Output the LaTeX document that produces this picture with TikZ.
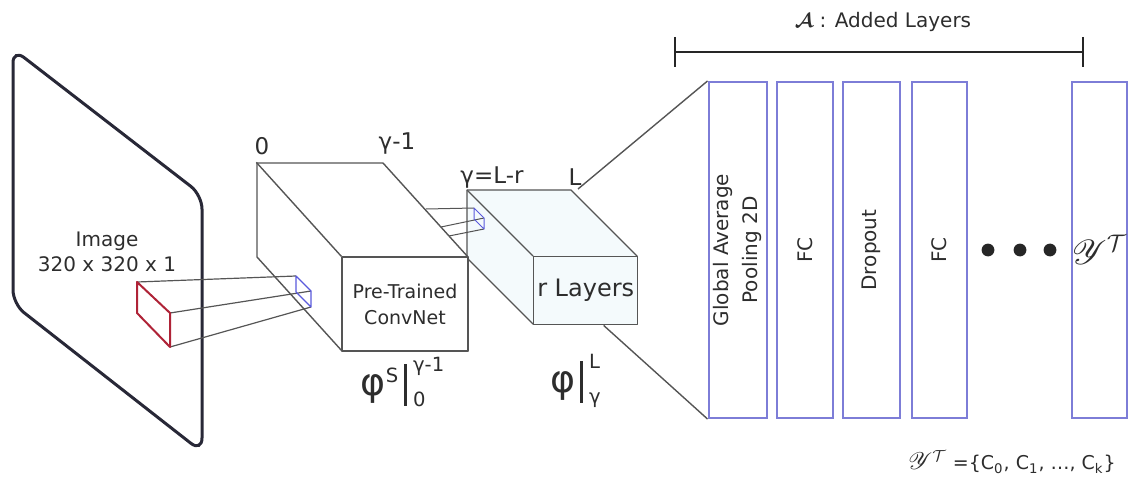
\documentclass[tikz,border=0pt]{standalone}
\usepackage{fontspec}
\setmainfont{DejaVu Sans}
\usepackage{amsmath}
\usepackage{mathrsfs}
\usetikzlibrary{positioning,calc}
\definecolor{cubegray}{RGB}{85,85,85}
\definecolor{txtgray}{RGB}{45,45,45}
\definecolor{panelgray}{RGB}{40,40,55}
\definecolor{layerblue}{RGB}{125,125,215}
\definecolor{patchred}{RGB}{175,35,55}
\definecolor{patchblue}{RGB}{90,90,220}
\definecolor{rfill}{RGB}{244,250,252}
\newcommand{\evalbar}{\mathclose{\mkern3mu\vrule width 1.3pt height 16pt depth 5pt\mkern4mu}}

\begin{document}
\begin{tikzpicture}[x=0.5pt,y=-0.5pt]
\tikzset{cube/.style={draw=cubegray, line width=0.7pt, line join=round},
  face/.style={cube, inner sep=0pt, align=center, text=txtgray},
  added/.style={draw=layerblue, line width=1pt, minimum height=168pt, inner sep=0pt, text=txtgray, font=\fontsize{10}{14.5}\selectfont},
  lbl/.style={text=txtgray, inner sep=1pt, font=\fontsize{11.5}{12}\selectfont},
  patch/.style={line width=0.6pt, line join=round},
  bracket/.style={line width=1.4pt, draw=black!85}}
\useasboundingbox (0,0) rectangle (1128,476);
\draw[panelgray, line width=1.5pt, rounded corners=7pt] (13,49) -- (202,195) -- (202,452) -- (13,304) -- cycle;
\node[text=txtgray, align=center, font=\fontsize{10}{12.5}\selectfont] (img) at (107,252) {Image\\320 x 320 x 1};
\coordinate (rnw) at (533,256);
\filldraw[cube, fill=rfill] (rnw) ++(-66,-66) -- ++(104,0) -- ++(66,66) -- ++(0,68) -- ++(-104,0) -- ++(-66,-66) -- cycle;
\node[face, fill=rfill, anchor=north west, minimum width=52pt, minimum height=34pt, font=\fontsize{12}{12}\selectfont] (rlay) at (rnw) {r Layers};
\draw[cube] (rlay.north west) -- ++(-66,-66);
\filldraw[cube, fill=white] (257,163) -- (383,163) -- (468,257) -- (468,351) -- (342,351) -- (257,257) -- cycle;
\node[face, minimum width=63pt, minimum height=47pt, font=\fontsize{9.5}{13}\selectfont] (ptnet) at (405,304) {Pre-Trained\\ConvNet};
\draw[cube] (ptnet.north west) -- ++(-85,-94);
\coordinate (r1) at (137,282);
\coordinate (r2) at (170,313);
\coordinate (r3) at (170,347);
\coordinate (r4) at (137,313);
\coordinate (b1) at (296,276);
\coordinate (b2) at (311,291);
\coordinate (b3) at (311,307);
\coordinate (b4) at (296,292);
\draw[patch, cubegray] (r1) -- (b1) (r2) -- (b2) (r3) -- (b3);
\draw[patch, patchred, line width=1pt] (r1) -- (r2) -- (r3) -- (r4) -- cycle;
\draw[patch, patchblue] (b1) -- (b2) -- (b3) -- (b4) -- cycle;
\coordinate (s1) at (474,208);
\coordinate (s2) at (484,218);
\coordinate (s3) at (484,229);
\coordinate (s4) at (474,219);
\draw[patch, cubegray, line width=0.5pt] (426,209) -- (s1) (441,227) -- (s2) (449,236) -- (s3);
\draw[patch, patchblue, line width=0.5pt] (s1) -- (s2) -- (s3) -- (s4) -- cycle;
\node[lbl] (l0) at (262,146) {0};
\node[lbl] (lg) at (397,144) {γ-1};
\node[lbl] (lgr) at (492,178) {γ=L-r};
\node[lbl] (lL) at (575,177) {L};
\node[text=txtgray, inner sep=0pt] (phis) at (403,382) {\fontsize{14}{15}\selectfont $\text{\fontsize{19}{19}\selectfont φ}^{\text{S}}\evalbar_{\text{0}}^{\text{γ-1}}$};
\node[text=txtgray, inner sep=0pt] (phir) at (576,381) {\fontsize{14}{15}\selectfont $\text{\fontsize{19}{19}\selectfont φ}\evalbar_{\text{γ}}^{\text{L}}$};
\node[added, minimum width=27.5pt] (gap) at (737.5,250) {\rotatebox{90}{\begin{tabular}{@{}c@{}}Global Average\\Pooling 2D\end{tabular}}};
\node[added, minimum width=28pt] (fc1) at (805,250) {\rotatebox{90}{FC}};
\node[added, minimum width=28.5pt] (drop) at (871.5,250) {\rotatebox{90}{Dropout}};
\node[added, minimum width=27.5pt] (fc2) at (939.5,250) {\rotatebox{90}{FC}};
\node[added, minimum width=26.5pt] (out) at (1099.5,250) {\fontsize{17}{17}\selectfont $\mathscr{Y}^{\mathcal{T}}$};
\foreach \x in {988,1020,1050}
  \fill[black!85] (\x,250) circle (3.2pt);
\coordinate (c2top) at (578,189);
\coordinate (c2bot) at ($(rlay.south west)!0.67!(rlay.south east)$);
\draw[cube] (c2top) -- (gap.north west);
\draw[cube] (c2bot) -- (gap.south west);
\coordinate (al) at (675,52);
\coordinate (ar) at (1083,52);
\draw[bracket] (al) -- (ar);
\draw[bracket] (al) ++(0,-15) -- ++(0,30);
\draw[bracket] (ar) ++(0,-15) -- ++(0,30);
\node[text=txtgray, font=\fontsize{10}{12}\selectfont] (addt) at (883,22) {$\boldsymbol{\mathcal{A}}$ : Added Layers};
\node[text=txtgray, font=\fontsize{9.5}{10}\selectfont] (yset) at (1012,462) {{\fontsize{12}{12}\selectfont$\mathscr{Y}^{\mathcal{T}}$} =\{C$_{\text{0}}$, C$_{\text{1}}$, \ldots, C$_{\text{k}}$\}};
\end{tikzpicture}
\end{document}
